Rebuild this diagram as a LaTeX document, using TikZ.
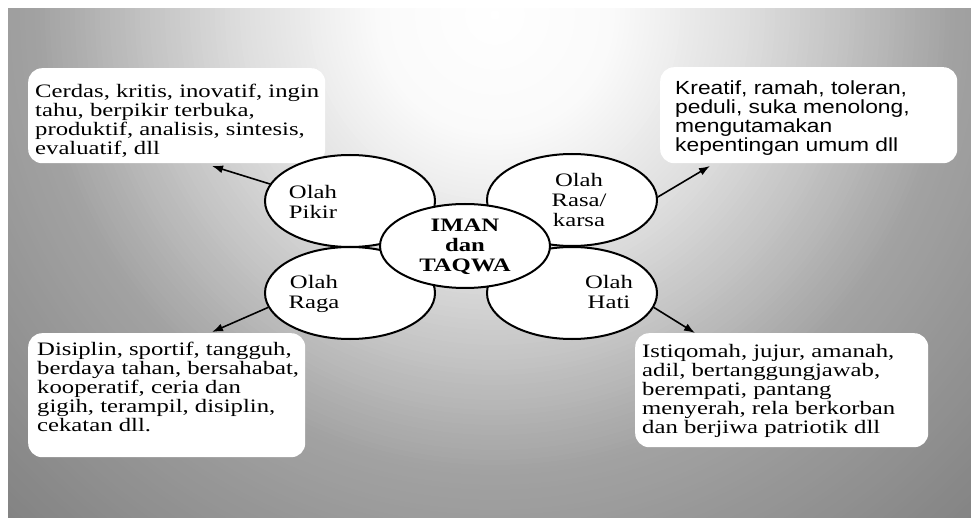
\documentclass[tikz,border=0pt]{standalone}
\usepackage{fontspec}
\setmainfont{Liberation Serif}[FakeStretch=1.3]
\newfontfamily\sansnote{Liberation Sans}[FakeStretch=1.2]
\usetikzlibrary{arrows.meta,shapes.geometric}

\begin{document}
\begin{tikzpicture}[x=1pt, y=-1pt,
  petal/.style={ellipse, draw=black, line width=2pt, fill=white, minimum width=170pt, minimum height=92pt, inner sep=0pt},
  petaltext/.style={align=center, anchor=north, inner sep=0pt, font=\fontsize{19}{20}\selectfont},
  notebox/.style={fill=white, rounded corners=14pt, inner sep=0pt, anchor=north west},
  notetext/.style={align=left, anchor=north west, inner sep=0pt, font=\fontsize{19}{19}\selectfont},
  link/.style={line width=1.6pt, -{Latex[length=11pt,width=8pt]}}]
\useasboundingbox (0,0) rectangle (971,518);
% backdrop
\begin{scope}
\clip (8,9) rectangle (971,518);
\foreach \r in {700,695,...,0} {
  \pgfmathsetmacro\shadelevel{\r<120 ? 2*\r/120 : (\r<250 ? 2+10.5*(\r-120)/130 : (\r<350 ? 12.5+11*(\r-250)/100 : (\r<460 ? 23.5+13*(\r-350)/110 : 36.5+11*(\r-460)/220)))}
  \fill[black!\shadelevel] (495,15) circle (\r);
}
\end{scope}
% boxes
\node[notebox, minimum width=297pt, minimum height=95pt] (pikirbox) at (28,68) {};
\node[notebox, minimum width=297pt, minimum height=96pt] (rasabox) at (660,67) {};
\node[notebox, minimum width=277pt, minimum height=124pt] (ragabox) at (28,333) {};
\node[notebox, minimum width=293pt, minimum height=114pt] (hatibox) at (635,333) {};
\node[notetext] (pikirnote) at (35,84) {Cerdas, kritis, inovatif, ingin\\tahu, berpikir terbuka,\\produktif, analisis, sintesis,\\evaluatif, dll};
\node[notetext, font=\sansnote\fontsize{19}{19}\selectfont] (rasanote) at (675,81) {Kreatif, ramah, toleran,\\peduli, suka menolong,\\mengutamakan\\kepentingan umum dll};
\node[notetext] (raganote) at (37,342) {Disiplin, sportif, tangguh,\\berdaya tahan, bersahabat,\\kooperatif, ceria dan\\gigih, terampil, disiplin,\\cekatan dll.};
\node[notetext] (hatinote) at (642,344) {Istiqomah, jujur, amanah,\\adil, bertanggungjawab,\\berempati, pantang\\menyerah, rela berkorban\\dan berjiwa patriotik dll};
% petals
\node[petal] (pikir) at (350,201) {};
\node[petal] (raga) at (350,293) {};
\node[petal] (rasa) at (572,200) {};
\node[petal] (hati) at (572,293) {};
\node[petal, minimum height=84pt] (iman) at (465,246) {};
\node[petaltext] (pikirlabel) at (313,185) {Olah\\Pikir};
\node[petaltext] (ragalabel) at (314,275) {Olah\\Raga};
\node[petaltext] (rasalabel) at (579,173) {Olah\\Rasa/\\karsa};
\node[petaltext] (hatilabel) at (609,275) {Olah\\Hati};
\node[petaltext, font=\bfseries\fontsize{19}{20}\selectfont] (imanlabel) at (465,219) {IMAN\\dan\\TAQWA};
% arrows
\coordinate (pikirend) at (212,166);
\coordinate (rasaend) at (710,166);
\coordinate (ragaend) at (212,332);
\coordinate (hatiend) at (695,333);
\draw[link] (pikir.168) -- (pikirend);
\draw[link] (rasa.2) -- (rasaend);
\draw[link] (raga.190) -- (ragaend);
\draw[link] (hati.-10) -- (hatiend);
\end{tikzpicture}
\end{document}
